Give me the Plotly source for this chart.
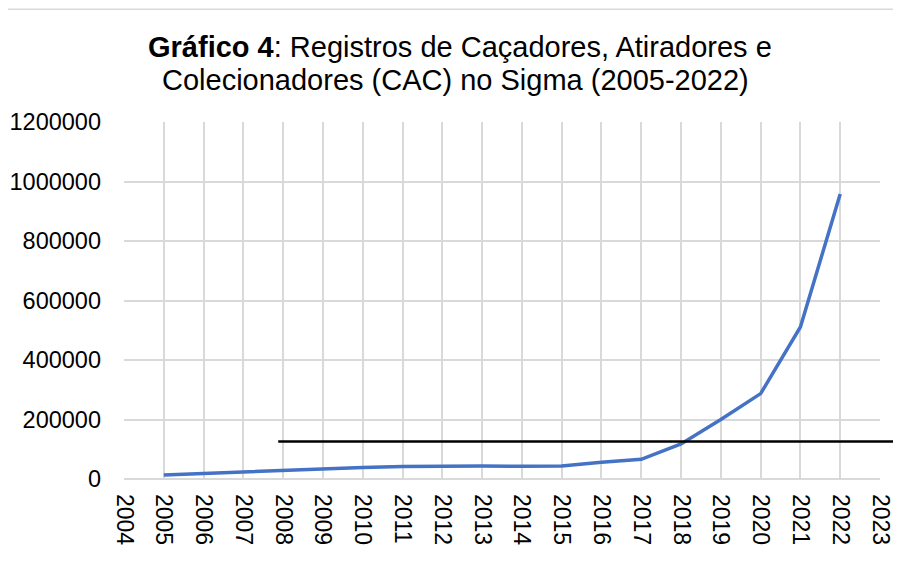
import plotly.graph_objects as go

# Registros CAC no Sigma
years = list(range(2005, 2023))
registros = [13400, 19000, 23000, 28000, 33000, 39000, 42000, 44000, 43600, 42500,
             43600, 56000, 66000, 118000, 200000, 287000, 511000, 958000]
x_ticks = list(range(2004, 2024))
y_ticks = [0, 200000, 400000, 600000, 800000, 1000000, 1200000]
ref_line_value = 126000

title_lines = [
    "<b>Gráfico 4</b>: Registros de Caçadores, Atiradores e",
    "Colecionadores (CAC) no Sigma (2005-2022)",
]

FONT = "Liberation Sans, Arial, sans-serif"
GRID = "#D9D9D9"

fig = go.Figure()

fig.add_trace(go.Scatter(
    x=years,
    y=registros,
    mode="lines",
    line=dict(color="#4472C4", width=3.5),
    showlegend=False
))

# linha de referência horizontal (preta)
fig.add_shape(type="line", xref="paper", yref="y",
              x0=0.204, x1=1.05, y0=ref_line_value, y1=ref_line_value,
              line=dict(color="black", width=2.5), layer="above")

# moldura do gráfico
fig.add_shape(type="rect", xref="paper", yref="paper",
              x0=-0.157, x1=1.1, y0=-0.5, y1=1.316,
              line=dict(color=GRID, width=1.5), layer="below")

# título em duas linhas (annotations para controlar o espaçamento)
for txt, xpos, ypos in zip(title_lines, [0.444, 0.439], [1.210, 1.118]):
    fig.add_annotation(
        text=txt, xref="paper", yref="paper", x=xpos, y=ypos,
        xanchor="center", yanchor="middle", showarrow=False,
        font=dict(size=29, family=FONT, color="black")
    )

fig.update_layout(
    xaxis=dict(
        range=[2004, 2023],
        tickvals=x_ticks,
        ticktext=[str(v) for v in x_ticks],
        tickangle=90,
        showgrid=True,
        gridcolor=GRID,
        gridwidth=1.5,
        zeroline=False,
        showline=False,
        automargin=False,
        tickfont=dict(size=23, family=FONT, color="black"),
        ticklabelstandoff=14
    ),
    yaxis=dict(
        range=[0, 1200000],
        tickvals=y_ticks,
        ticktext=[str(v) for v in y_ticks],
        showgrid=True,
        gridcolor=GRID,
        gridwidth=1.5,
        zeroline=True,
        zerolinecolor=GRID,
        zerolinewidth=1.5,
        automargin=False,
        tickfont=dict(size=23.5, family=FONT, color="black"),
        ticklabelstandoff=22
    ),
    plot_bgcolor="white",
    paper_bgcolor="white",
    font=dict(family=FONT, color="black"),
    margin=dict(l=116, r=29, t=114, b=103),
    width=901,
    height=574,
    showlegend=False
)

fig.write_html("out.html")
